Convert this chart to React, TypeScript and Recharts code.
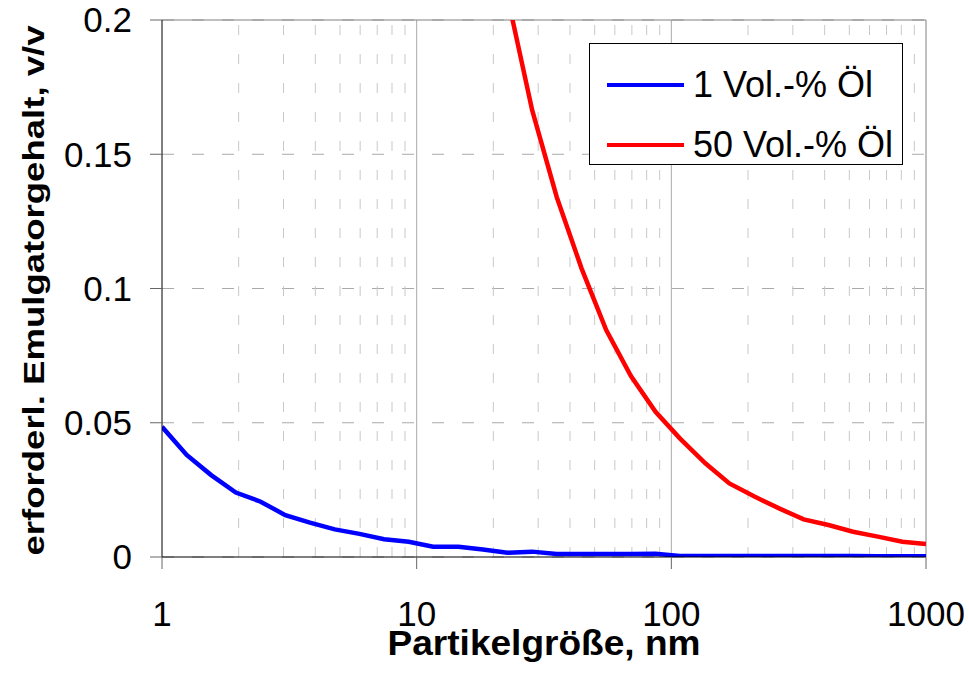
import React from 'react';
import { LineChart, Line, XAxis, YAxis, CartesianGrid, ReferenceLine, Legend } from 'recharts';

// particle size, nm (log-spaced sample points)
const sizes = [
  1, 1.25, 1.56, 1.95, 2.44, 3.05, 3.81, 4.77, 5.96, 7.45, 9.31, 11.6, 14.6, 18.2, 22.7, 28.4,
  35.5, 44.4, 55.5, 69.4, 86.7, 108, 136, 169, 212, 265, 331, 414, 517, 647, 808, 1000,
];

// required emulsifier content, v/v
const oil1 = [
  0.0485, 0.038, 0.0305, 0.024, 0.0206, 0.0156, 0.0128, 0.0103, 0.0086, 0.0066, 0.0057, 0.0038,
  0.0038, 0.0028, 0.0016, 0.002, 0.0011, 0.0011, 0.0011, 0.0011, 0.0012, 0.0004, 0.0004, 0.0004,
  0.0004, 0.0004, 0.0004, 0.0004, 0.0004, 0.0003, 0.0003, 0.0003,
];
// 50 vol-% curve starts at 22.7 nm (above 0.2 before that)
const oil50Start = 14;
const oil50 = [
  0.209, 0.1665, 0.134, 0.1075, 0.0845, 0.0674, 0.0541, 0.0442, 0.0349, 0.0274, 0.0225, 0.0181,
  0.014, 0.0119, 0.0094, 0.0076, 0.0057, 0.0048,
];

const xTicks = [1, 10, 100, 1000];
const xMajorGrid = [10, 100];
const xMinorGrid = [2, 3, 4, 5, 6, 7, 8, 9, 20, 30, 40, 50, 60, 70, 80, 90, 200, 300, 400, 500, 600, 700, 800, 900];
const yTicks = [0, 0.05, 0.1, 0.15, 0.2];

const seriesNames = ['1 Vol.-% Öl', '50 Vol.-% Öl'];
const xTitle = 'Partikelgröße, nm';
const yTitle = 'erforderl. Emulgatorgehalt, v/v';

const data = sizes.map((x, i) => ({
  x,
  a: oil1[i],
  b: i >= oil50Start ? oil50[i - oil50Start] : null,
}));

const FONT = '"Liberation Sans", Arial, sans-serif';

function LegendBox({ payload }: any) {
  return (
    <div
      style={{
        width: 314,
        height: 122,
        border: '1px solid #000',
        background: '#fff',
        boxSizing: 'border-box',
        fontFamily: FONT,
        fontSize: 36,
        color: '#000',
        paddingTop: 11,
        textAlign: 'left',
      }}
    >
      {(payload || []).map((p: any) => (
        <div key={p.value} style={{ display: 'flex', alignItems: 'center', height: 60 }}>
          <div style={{ marginLeft: 17, width: 77, height: 4, background: p.color }} />
          <span style={{ marginLeft: 9, lineHeight: '40px' }}>{p.value}</span>
        </div>
      ))}
    </div>
  );
}

// axis titles: the source text is slightly stretched, so fit it with textLength
function XTitle({ viewBox }: any) {
  const cx = viewBox.x + viewBox.width / 2;
  return (
    <text
      x={cx}
      y={655}
      textAnchor="middle"
      fontFamily={FONT}
      fontSize={35}
      fontWeight="bold"
      fill="#000"
      textLength={313}
      lengthAdjust="spacingAndGlyphs"
    >
      {xTitle}
    </text>
  );
}

function YTitle({ viewBox }: any) {
  const cy = viewBox.y + viewBox.height / 2 + 2;
  const x = 44;
  return (
    <text
      x={x}
      y={cy}
      transform={`rotate(-90, ${x}, ${cy})`}
      textAnchor="middle"
      fontFamily={FONT}
      fontSize={30}
      fontWeight="bold"
      fill="#000"
      textLength={530}
      lengthAdjust="spacingAndGlyphs"
    >
      {yTitle}
    </text>
  );
}

export default function App() {
  return (
    <div style={{ position: 'absolute', left: 0, top: 0, background: '#fff' }}>
      <LineChart
        width={969}
        height={674}
        data={data}
        margin={{ top: 20, right: 43, bottom: 0, left: 0 }}
        style={{ fontFamily: FONT }}
      >
        <CartesianGrid vertical={false} stroke="#aaaaaa" strokeDasharray="12 18" />
        {xMinorGrid.map((v) => (
          <ReferenceLine key={v} x={v} stroke="#c8c8c8" strokeDasharray="10 19" />
        ))}
        {xMajorGrid.map((v) => (
          <ReferenceLine key={v} x={v} stroke="#aaaaaa" />
        ))}
        <ReferenceLine y={0.2} stroke="#808080" />
        <ReferenceLine x={1000} stroke="#808080" />
        <XAxis
          dataKey="x"
          type="number"
          scale="log"
          domain={[1, 1000]}
          ticks={xTicks}
          allowDataOverflow
          height={117}
          tickSize={12}
          tickMargin={32}
          stroke="#000"
          tickLine={{ stroke: '#666' }}
          tick={{ fill: '#000', fontSize: 35, fontFamily: FONT }}
          label={<XTitle />}
        />
        <YAxis
          type="number"
          domain={[0, 0.2]}
          ticks={yTicks}
          allowDataOverflow
          width={162}
          tickSize={12}
          tickMargin={18}
          stroke="#000"
          tickLine={{ stroke: '#666' }}
          tick={{ fill: '#000', fontSize: 35, fontFamily: FONT }}
          label={<YTitle />}
        />
        <Legend
          layout="horizontal"
          verticalAlign="middle"
          align="center"
          content={<LegendBox />}
          wrapperStyle={{ left: 589, top: 43, width: 314, height: 122 }}
        />
        <Line
          name={seriesNames[0]}
          dataKey="a"
          stroke="#0000ff"
          strokeWidth={4.5}
          dot={false}
          isAnimationActive={false}
        />
        <Line
          name={seriesNames[1]}
          dataKey="b"
          stroke="#ff0000"
          strokeWidth={4.5}
          dot={false}
          isAnimationActive={false}
        />
      </LineChart>
    </div>
  );
}
